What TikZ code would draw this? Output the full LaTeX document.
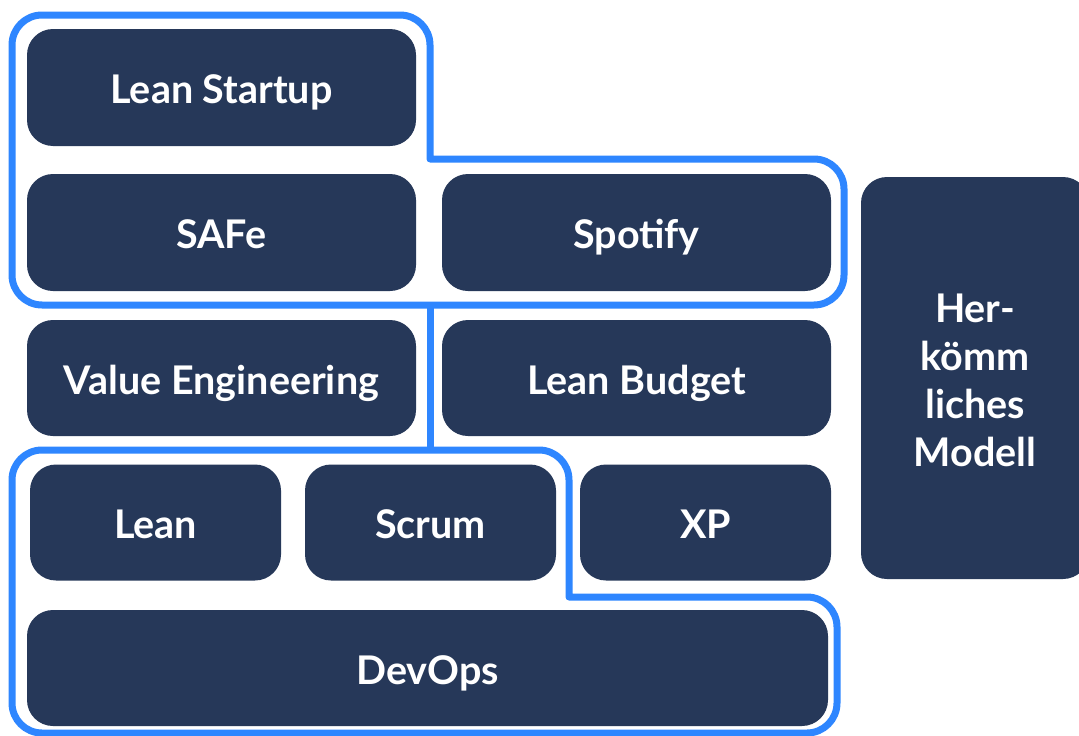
\documentclass[tikz,border=0pt]{standalone}
\usepackage{fontspec}
\setmainfont{Lato}
\definecolor{navy}{RGB}{38,56,89}
\definecolor{frameblue}{RGB}{46,134,255}
\begin{document}
\begin{tikzpicture}[x=1pt,y=-1pt,
  box/.style={fill=navy, rounded corners=26pt, inner sep=0pt, text=white,
    font=\fontsize{39.5}{47}\selectfont\bfseries, anchor=center},
  lbl/.style={text=white, inner sep=0pt, text height=28.5pt, text depth=0pt,
    font=\fontsize{39.5}{47}\selectfont\bfseries, anchor=center},
  frame/.style={draw=frameblue, line width=7pt, line join=round}]
\clip (0,0) rectangle (1079,736);
\useasboundingbox (0,0) rectangle (1079,736);
\fill[white] (0,0) rectangle (1079,736);
% boxes
\node[box, minimum width=389pt, minimum height=117pt] (ls) at (221.5,87.5) {};
\node[box, minimum width=389pt, minimum height=117pt] (safe) at (221.5,232.5) {};
\node[box, minimum width=389pt, minimum height=117pt] (spot) at (636.5,232.5) {};
\node[box, minimum width=389pt, minimum height=116pt] (ve) at (221.5,378) {};
\node[box, minimum width=389pt, minimum height=116pt] (lb) at (636.5,378) {};
\node[box, minimum width=251pt, minimum height=116pt] (lean) at (155.5,522.5) {};
\node[box, minimum width=251pt, minimum height=116pt] (scrum) at (430.5,522.5) {};
\node[box, minimum width=251pt, minimum height=116pt] (xp) at (705.5,522.5) {};
\node[box, minimum width=801pt, minimum height=116pt] (devops) at (427.5,668) {};
\node[box, minimum width=228pt, minimum height=402pt] (hm) at (975,378) {};
% labels
\node[lbl] (lsT) at ([yshift=-2pt]ls.center) {Lean Startup};
\node[lbl] (safeT) at ([yshift=-2pt]safe.center) {SAFe};
\node[lbl] (spotT) at ([yshift=-2pt]spot.center) {Spotify};
\node[lbl] (veT) at ([yshift=-2pt]ve.center) {Value Engineering};
\node[lbl] (lbT) at ([yshift=-2pt]lb.center) {Lean Budget};
\node[lbl] (leanT) at ([yshift=-2pt]lean.center) {Lean};
\node[lbl] (scrumT) at ([yshift=-2pt]scrum.center) {Scrum};
\node[lbl] (xpT) at ([yshift=-2pt]xp.center) {XP};
\node[lbl] (devopsT) at ([yshift=-2pt]devops.center) {DevOps};
\node[text=white, inner sep=0pt, align=center, anchor=center,
  font=\fontsize{39.5}{48}\selectfont\bfseries] (hmT) at ([yshift=-2pt]hm.center) {Her-\\kömm\\liches\\Modell};
% frames
\draw[frame, rounded corners=30pt] (12,160) -- (12,15) -- (430,15) [sharp corners] -- (430,159)
  [rounded corners=30pt] -- (844,159) -- (844,305) -- (12,305) -- (12,160);
\coordinate (t1) at (430,305);
\coordinate (t2) at (430,450);
\draw[frame, line join=miter] (t1) -- (t2);
\draw[frame, rounded corners=30pt] (12,600) -- (12,450) -- (569,450) [sharp corners] -- (569,597)
  [rounded corners=30pt] -- (837,597) -- (837,733) -- (12,733) -- (12,600);
\end{tikzpicture}
\end{document}
